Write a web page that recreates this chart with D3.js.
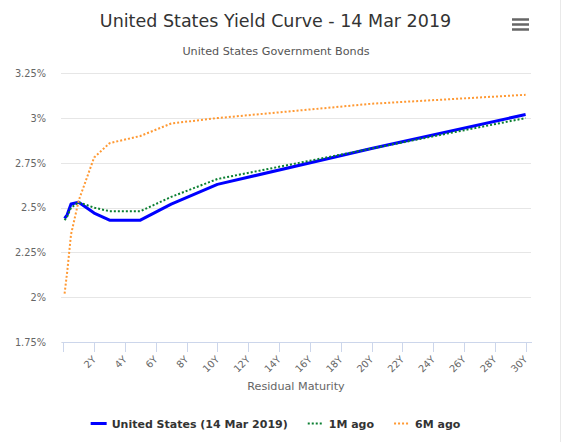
<!DOCTYPE html>
<html>
<head>
<meta charset="utf-8">
<script src="https://cdn.jsdelivr.net/npm/d3@7"></script>
<style>
  html, body { margin: 0; padding: 0; background: #fff; }
  svg { display: block; font-family: "DejaVu Sans", sans-serif; }
</style>
</head>
<body>
<svg id="chart" width="566" height="442"></svg>
<script>
// maturities in years, with their names
var maturities = [0.083, 0.25, 0.5, 1, 2, 3, 5, 7, 10, 20, 30];
var maturityNames = ['1M', '3M', '6M', '1Y', '2Y', '3Y', '5Y', '7Y', '10Y', '20Y', '30Y'];

// yields (%)
var usNow = [2.44, 2.46, 2.52, 2.53, 2.47, 2.43, 2.43, 2.52, 2.63, 2.83, 3.02];
var oneMonthAgo = [2.43, 2.45, 2.50, 2.53, 2.50, 2.48, 2.48, 2.56, 2.66, 2.83, 3.00];
var sixMonthsAgo = [2.02, 2.14, 2.35, 2.54, 2.78, 2.86, 2.90, 2.97, 3.00, 3.08, 3.13];

var seriesNames = ['United States (14 Mar 2019)', '1M ago', '6M ago'];
var seriesColors = ['#0000ff', '#0b7f32', '#ff9933'];

var xTicks = [0, 2, 4, 6, 8, 10, 12, 14, 16, 18, 20, 22, 24, 26, 28, 30];
var yTicks = [1.75, 2, 2.25, 2.5, 2.75, 3, 3.25];

var svg = d3.select('#chart');
var plot = {left: 61, right: 531, top: 73.3, bottom: 342};

var x = d3.scaleLinear().domain([-0.15, 30.35]).range([plot.left, plot.right]);
var y = d3.scaleLinear().domain([1.75, 3.25]).range([plot.bottom, plot.top]);

// right border of the container
svg.append('line')
    .attr('x1', 560.5).attr('x2', 560.5)
    .attr('y1', 0).attr('y2', 442)
    .attr('stroke', '#e9e9e9');

// titles
svg.append('text')
    .attr('x', 275.5).attr('y', 27)
    .attr('text-anchor', 'middle')
    .style('font-size', '17.5px')
    .style('fill', '#333333')
    .text('United States Yield Curve - 14 Mar 2019');

svg.append('text')
    .attr('x', 276).attr('y', 55)
    .attr('text-anchor', 'middle')
    .style('font-size', '11.2px')
    .style('fill', '#555555')
    .text('United States Government Bonds');

// menu button
[19.5, 24.5, 29.5].forEach(function(yy){
    svg.append('line')
        .attr('x1', 512).attr('x2', 529)
        .attr('y1', yy).attr('y2', yy)
        .attr('stroke', '#666666')
        .attr('stroke-width', 2.5);
});

// y axis: grid + labels
var yAxis = d3.axisLeft(y)
    .tickValues(yTicks)
    .tickSize(-(plot.right - plot.left))
    .tickPadding(15)
    .tickFormat(function(d){ return d3.format('~g')(d) + '%'; });

var gy = svg.append('g')
    .attr('transform', 'translate(' + plot.left + ',0)')
    .call(yAxis);
gy.select('.domain').remove();
gy.selectAll('.tick line')
    .attr('stroke', '#e6e6e6')
    .attr('shape-rendering', 'crispEdges');
gy.selectAll('.tick text')
    .attr('x', 46 - plot.left)
    .attr('dy', '0.32em')
    .style('font-size', '9.8px')
    .style('font-family', '"DejaVu Sans", sans-serif')
    .style('fill', '#666666');

// x axis
var xAxis = d3.axisBottom(x)
    .tickValues(xTicks)
    .tickSize(10)
    .tickSizeOuter(0)
    .tickFormat(function(d){ return d === 0 ? '' : d + 'Y'; });

var gx = svg.append('g')
    .attr('transform', 'translate(0,' + plot.bottom + ')')
    .call(xAxis);
gx.select('.domain')
    .attr('stroke', '#ccd6eb')
    .attr('shape-rendering', 'crispEdges');
gx.selectAll('.tick line')
    .attr('stroke', '#ccd6eb')
    .attr('shape-rendering', 'crispEdges');
gx.selectAll('.tick text')
    .attr('y', 0).attr('dy', 0)
    .attr('text-anchor', 'end')
    .attr('transform', 'translate(2,18) rotate(-45)')
    .style('font-size', '9.8px')
    .style('font-family', '"DejaVu Sans", sans-serif')
    .style('fill', '#666666');

svg.append('text')
    .attr('x', (plot.left + plot.right) / 2).attr('y', 390)
    .attr('text-anchor', 'middle')
    .style('font-size', '11.2px')
    .style('fill', '#666666')
    .text('Residual Maturity');

// series
var allSeries = [usNow, oneMonthAgo, sixMonthsAgo];
var widths = [3, 2, 2];
var dashes = [null, '2,2', '2,2'];

var line = d3.line()
    .x(function(d, i){ return x(maturities[i]); })
    .y(function(d){ return y(d); });

allSeries.forEach(function(s, k){
    svg.append('path')
        .datum(s)
        .attr('d', line)
        .attr('fill', 'none')
        .attr('stroke', seriesColors[k])
        .attr('stroke-width', widths[k])
        .attr('stroke-linejoin', 'round')
        .attr('stroke-dasharray', dashes[k]);
});

// legend
var legend = svg.append('g');
var cursor = 0;
seriesNames.forEach(function(name, k){
    var item = legend.append('g').attr('transform', 'translate(' + cursor + ',0)');
    item.append('line')
        .attr('x1', 0).attr('x2', 16)
        .attr('y1', 423.5).attr('y2', 423.5)
        .attr('stroke', seriesColors[k])
        .attr('stroke-width', widths[k])
        .attr('stroke-dasharray', dashes[k]);
    var t = item.append('text')
        .attr('x', 21).attr('y', 427.5)
        .style('font-size', '11px')
        .style('font-weight', 'bold')
        .style('fill', '#333333')
        .text(name);
    cursor += 21 + t.node().getComputedTextLength() + 20;
});
var legendWidth = cursor - 20;
legend.attr('transform', 'translate(' + (275.5 - legendWidth / 2) + ',0)');
</script>
</body>
</html>
